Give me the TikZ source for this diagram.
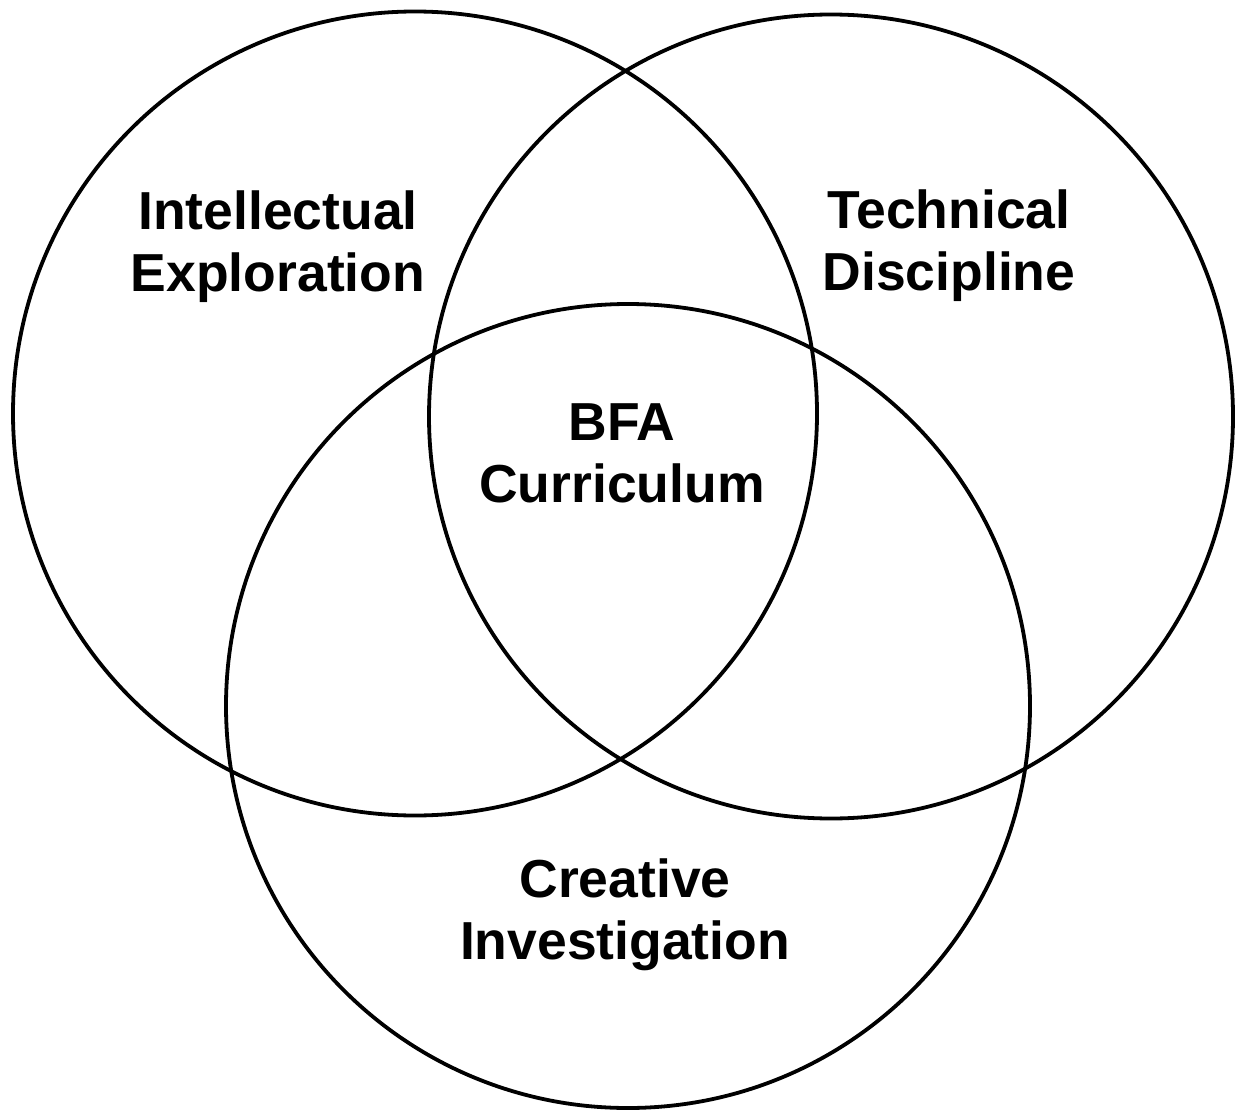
\documentclass[tikz,border=0pt]{standalone}
\usepackage{fontspec}
\setmainfont{Liberation Sans}
\begin{document}
\begin{tikzpicture}[x=1pt,y=-1pt,
  ring/.style={circle,draw=black,line width=3.8pt,minimum size=804pt,inner sep=0pt},
  lbl/.style={align=center,inner sep=0pt,text height=38pt,text depth=11pt,
    font=\bfseries\fontsize{53.5}{62}\selectfont}]
\useasboundingbox[fill=white] (0,0) rectangle (1239,1110);
\node[ring] (left) at (415,413.5) {};
\node[ring] (right) at (831,416.5) {};
\node[ring] (bottom) at (628,706) {};
\node[lbl] (intel) at (278,278) {Intellectual\\Exploration};
\node[lbl] (tech) at (949,277) {Technical\\Discipline};
\node[lbl] (bfa) at (622,489) {BFA\\Curriculum};
\node[lbl] (creat) at (625,946) {Creative\\Investigation};
\end{tikzpicture}
\end{document}
